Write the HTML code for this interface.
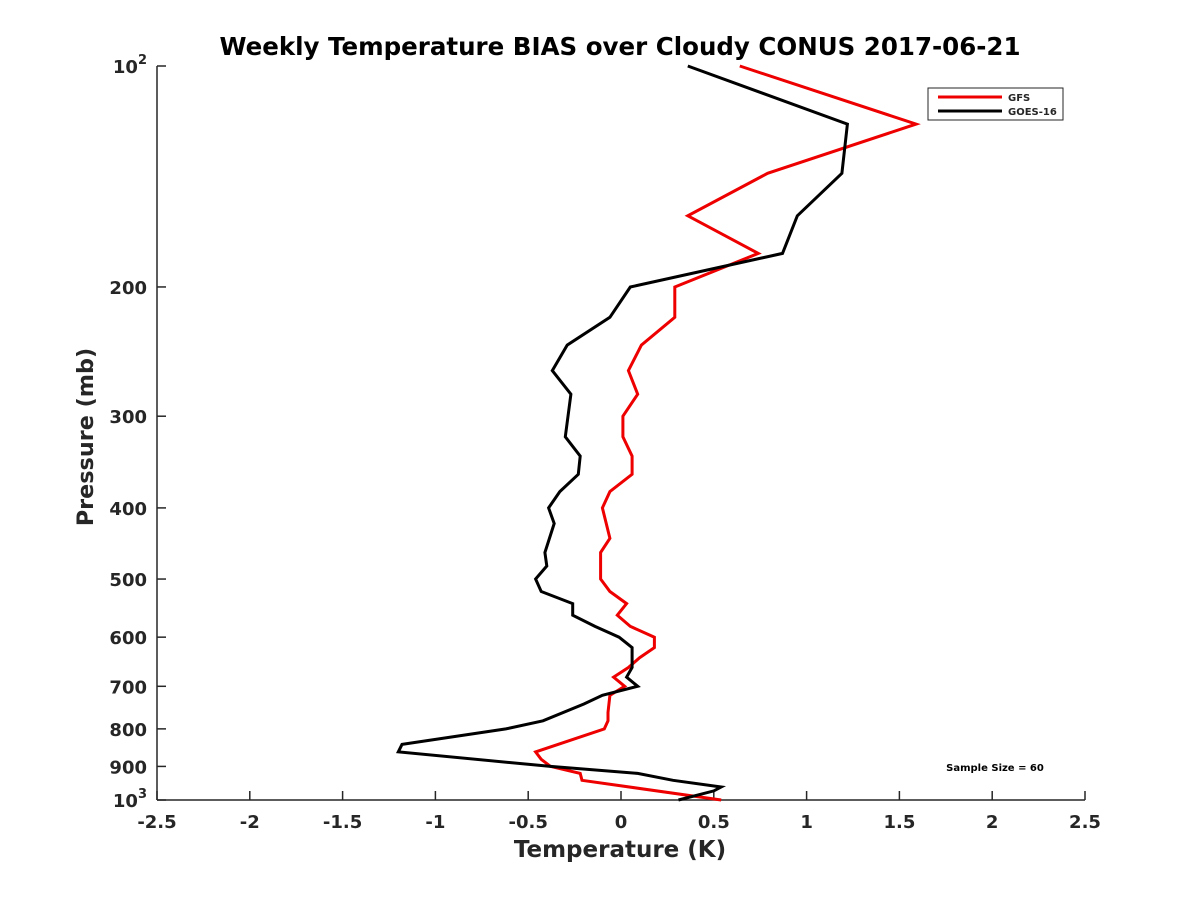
<!DOCTYPE html>
<html><head><meta charset="utf-8"><style>
body{margin:0;background:#fff;}
svg text{font-family:"DejaVu Sans","Liberation Sans",sans-serif;font-weight:bold;fill:#262626;}
</style></head><body>
<svg id="chart" width="1200" height="900" xmlns="http://www.w3.org/2000/svg">
<rect width="1200" height="900" fill="#fff"/>
<text x="620" y="55" font-size="24.5" text-anchor="middle" fill="#000" style="fill:#000">Weekly Temperature BIAS over Cloudy CONUS 2017-06-21</text>
<g id="axes"></g>
<g id="series"></g>
<g>
<rect x="928" y="88" width="135" height="32" fill="#fff" stroke="#262626" stroke-width="1"/>
<line x1="938" y1="97" x2="1002" y2="97" stroke="#e00" stroke-width="3"/>
<text x="1008" y="101" font-size="10">GFS</text>
<line x1="938" y1="111" x2="1002" y2="111" stroke="#000" stroke-width="3"/>
<text x="1008" y="115" font-size="10">GOES-16</text>
</g>
<text x="995" y="771" font-size="10" text-anchor="middle" fill="#000" style="fill:#000">Sample Size = 60</text>
<text x="620" y="857" font-size="23" text-anchor="middle">Temperature (K)</text>
<text transform="translate(93,437) rotate(-90)" font-size="22.3" text-anchor="middle">Pressure (mb)</text>
</svg>
<script>
const xTicks=[-2.5,-2,-1.5,-1,-0.5,0,0.5,1,1.5,2,2.5];
const yTicks=[100,200,300,400,500,600,700,800,900,1000];
const gfsP=[100,120,140,160,180,200,220,240,260,280,300,320,340,360,380,400,440,460,500,520,540,560,580,600,620,640,660,680,700,720,760,780,800,860,880,900,920,940,1000];
const gfsT=[0.64,1.59,0.79,0.36,0.74,0.29,0.29,0.11,0.04,0.09,0.01,0.01,0.06,0.06,-0.06,-0.10,-0.06,-0.11,-0.11,-0.06,0.03,-0.02,0.05,0.18,0.18,0.10,0.04,-0.04,0.02,-0.06,-0.07,-0.07,-0.09,-0.46,-0.43,-0.38,-0.22,-0.21,0.54];
const goesP=[100,120,140,160,180,200,220,240,260,280,320,340,360,380,400,420,460,480,500,520,540,560,580,600,620,660,680,700,720,740,780,800,840,860,900,920,940,960,972,1000];
const goesT=[0.36,1.22,1.19,0.95,0.87,0.05,-0.06,-0.29,-0.37,-0.27,-0.30,-0.22,-0.23,-0.33,-0.39,-0.36,-0.41,-0.40,-0.46,-0.43,-0.26,-0.26,-0.14,-0.01,0.06,0.06,0.03,0.09,-0.10,-0.20,-0.42,-0.62,-1.18,-1.20,-0.38,0.09,0.28,0.54,0.50,0.31];
const X0=157,X1=1085,Y0=66,Y1=800;
function xs(v){return X0+(v+2.5)/5*(X1-X0);}
function ys(p){return Y0+(Math.log10(p)-2)*(Y1-Y0);}
const NS="http://www.w3.org/2000/svg";
const axes=document.getElementById('axes'),series=document.getElementById('series');
function mk(tag,attrs,parent){const e=document.createElementNS(NS,tag);for(const k in attrs)e.setAttribute(k,attrs[k]);parent.appendChild(e);return e;}
const xa=mk('line',{x1:X0,y1:Y1,x2:X1,y2:Y1,stroke:'#262626','stroke-width':1.5},axes);


const ya=mk('line',{x1:X0,y1:Y0,x2:X0,y2:Y1,stroke:'#262626','stroke-width':1.5},axes);


xTicks.forEach(v=>{
 const x=xs(v);
 mk('line',{x1:x,y1:Y1,x2:x,y2:Y1-9,stroke:'#262626','stroke-width':1.5},axes);
 const t=mk('text',{x:x,y:Y1+28,'font-size':18,'text-anchor':'middle'},axes);
 t.textContent=String(v);
 
 
});
yTicks.forEach(p=>{
 const y=ys(p);
 mk('line',{x1:X0,y1:y,x2:X0+9,y2:y,stroke:'#262626','stroke-width':1.5},axes);
 const t=mk('text',{x:X0-10,y:y+7,'font-size':18,'text-anchor':'end'},axes);
 if(p===100||p===1000){t.textContent='10';const s=mk('tspan',{dy:-9,'font-size':13},t);s.textContent=(p===100?'2':'3');t.setAttribute('x',X0-10);}
 else t.textContent=String(p);
 
 
});
function line(P,T,color,name){
 const pts=P.map((p,i)=>xs(T[i]).toFixed(1)+','+ys(p).toFixed(1)).join(' ');
 const pl=mk('polyline',{points:pts,fill:'none',stroke:color,'stroke-width':3,'stroke-linejoin':'miter'},series);
 
 
}
line(gfsP,gfsT,'#e00','gfs-line');
line(goesP,goesT,'#000','goes16-line');
</script>
</body></html>
